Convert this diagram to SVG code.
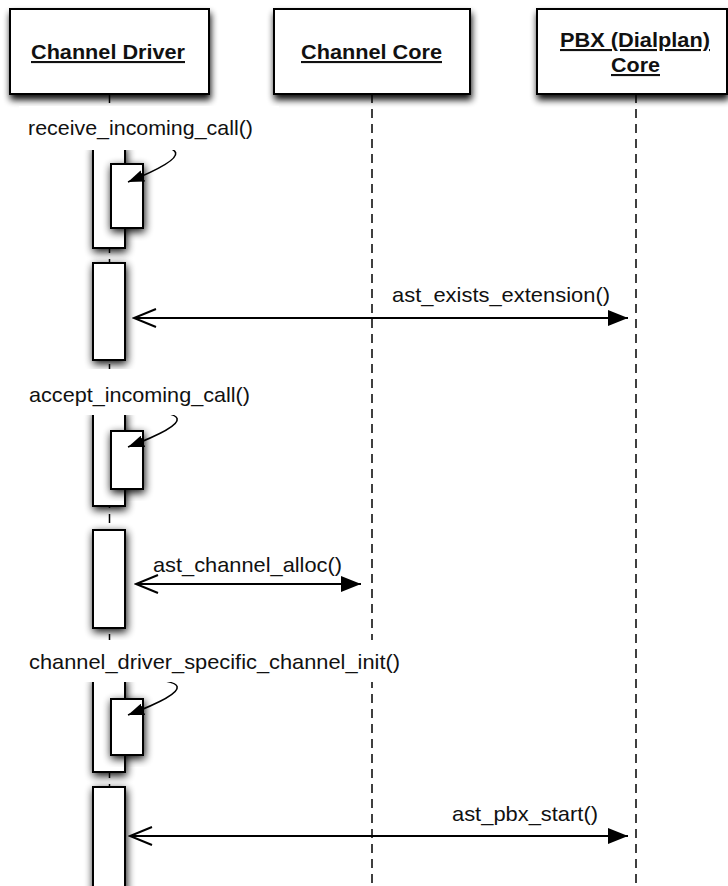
<svg xmlns="http://www.w3.org/2000/svg" width="728" height="886" viewBox="0 0 728 886">
  <style>
    .box { fill: #fff; stroke: #000; stroke-width: 2; }
    .bar { fill: #fff; stroke: #000; stroke-width: 2; }
    .life { fill: none; stroke: #000; stroke-width: 1.5; stroke-dasharray: 9 6; }
    .msg { fill: none; stroke: #000; stroke-width: 2; }
    .self { fill: none; stroke: #000; stroke-width: 1.6; }
    .hdr { font-family: "Liberation Sans", Arial, Helvetica, sans-serif; font-weight: bold; font-size: 21px; text-decoration: underline; fill: #111; }
    .lbl { font-family: "Liberation Sans", Arial, Helvetica, sans-serif; font-size: 21px; fill: #111; }
    .bg { fill: #fff; }
  </style>
  <defs>
    <filter id="boxShadow" x="-20%" y="-20%" width="140%" height="160%">
      <feGaussianBlur in="SourceAlpha" stdDeviation="3.5"/>
      <feOffset dx="1" dy="5"/>
      <feComponentTransfer><feFuncA type="linear" slope="0.95"/></feComponentTransfer>
      <feMerge><feMergeNode/><feMergeNode in="SourceGraphic"/></feMerge>
    </filter>
    <filter id="barShadow" x="-70%" y="-20%" width="240%" height="140%">
      <feGaussianBlur in="SourceAlpha" stdDeviation="4"/>
      <feOffset dx="1" dy="3"/>
      <feComponentTransfer><feFuncA type="linear" slope="0.95"/></feComponentTransfer>
      <feMerge><feMergeNode/><feMergeNode in="SourceGraphic"/></feMerge>
    </filter>
    <marker id="head" viewBox="0 0 20 16" refX="20" refY="8" markerWidth="20" markerHeight="16" markerUnits="userSpaceOnUse" orient="auto">
      <path d="M0,0 L20,8 L0,16 z" fill="#000"/>
    </marker>
    <marker id="open" viewBox="-2 -2 26 22" refX="0" refY="9" markerWidth="26" markerHeight="22" markerUnits="userSpaceOnUse" orient="auto">
      <path d="M22,0 L0,9 L22,18" fill="none" stroke="#000" stroke-width="2"/>
    </marker>
    <marker id="headSmall" viewBox="0 0 16 12" refX="16" refY="6" markerWidth="16" markerHeight="12" markerUnits="userSpaceOnUse" orient="auto">
      <path d="M0,0 L16,6 L0,12 z" fill="#000"/>
    </marker>
  </defs>

  <!-- lifelines -->
  <g id="lifelines">
    <line class="life" x1="109.5" y1="94" x2="109.5" y2="886"/>
    <line class="life" x1="372" y1="94" x2="372" y2="886"/>
    <line class="life" x1="636" y1="94" x2="636" y2="886"/>
  </g>

  <!-- participant headers -->
  <g id="channel-driver">
    <rect class="box" x="10" y="9" width="199" height="85" filter="url(#boxShadow)"/>
    <text class="hdr" x="31" y="59" textLength="154" lengthAdjust="spacingAndGlyphs">Channel Driver</text>
  </g>
  <g id="channel-core">
    <rect class="box" x="274" y="9" width="196" height="85" filter="url(#boxShadow)"/>
    <text class="hdr" x="301" y="59" textLength="141" lengthAdjust="spacingAndGlyphs">Channel Core</text>
  </g>
  <g id="pbx-core">
    <rect class="box" x="537" y="9" width="190" height="85" filter="url(#boxShadow)"/>
    <text class="hdr" x="560" y="47" textLength="150" lengthAdjust="spacingAndGlyphs">PBX (Dialplan)</text>
    <text class="hdr" x="611" y="72" textLength="49" lengthAdjust="spacingAndGlyphs">Core</text>
  </g>

  <!-- activation bars on the channel driver -->
  <g id="activation-receive">
    <rect class="bar" x="93" y="146" width="32" height="102" filter="url(#barShadow)"/>
    <rect class="bar" x="111" y="164" width="32" height="64" filter="url(#barShadow)"/>
  </g>
  <g id="activation-exists">
    <rect class="bar" x="93" y="263" width="32" height="97" filter="url(#barShadow)"/>
  </g>
  <g id="activation-accept">
    <rect class="bar" x="93" y="411" width="32" height="95" filter="url(#barShadow)"/>
    <rect class="bar" x="111" y="431" width="32" height="58" filter="url(#barShadow)"/>
  </g>
  <g id="activation-alloc">
    <rect class="bar" x="93" y="530" width="32" height="98" filter="url(#barShadow)"/>
  </g>
  <g id="activation-init">
    <rect class="bar" x="93" y="678" width="32" height="94" filter="url(#barShadow)"/>
    <rect class="bar" x="111" y="699" width="32" height="56" filter="url(#barShadow)"/>
  </g>
  <g id="activation-pbx-start">
    <rect class="bar" x="93" y="787" width="32" height="110" filter="url(#barShadow)"/>
  </g>

  <!-- messages -->
  <g id="connectors">
    <path class="self" d="M125,146 C187,144 197,154 128,182" marker-end="url(#headSmall)"/>
    <path class="self" d="M125,412 C189,410 199,420 128,447" marker-end="url(#headSmall)"/>
    <path class="self" d="M125,680 C189,678 199,688 128,715" marker-end="url(#headSmall)"/>

    <line class="msg" x1="134" y1="318" x2="628" y2="318" marker-start="url(#open)" marker-end="url(#head)"/>
    <text class="lbl" x="392" y="302" textLength="218" lengthAdjust="spacingAndGlyphs">ast_exists_extension()</text>

    <line class="msg" x1="136" y1="584" x2="361" y2="584" marker-start="url(#open)" marker-end="url(#head)"/>
    <text class="lbl" x="153" y="572" textLength="189" lengthAdjust="spacingAndGlyphs">ast_channel_alloc()</text>

    <line class="msg" x1="130" y1="836" x2="628" y2="836" marker-start="url(#open)" marker-end="url(#head)"/>
    <text class="lbl" x="452" y="821" textLength="146" lengthAdjust="spacingAndGlyphs">ast_pbx_start()</text>
  </g>

  <!-- self-call labels on white panels -->
  <g id="label-receive">
    <rect class="bg" x="19" y="106" width="260" height="44"/>
    <text class="lbl" x="28" y="135" textLength="225" lengthAdjust="spacingAndGlyphs">receive_incoming_call()</text>
  </g>
  <g id="label-accept">
    <rect class="bg" x="19" y="369" width="260" height="46"/>
    <text class="lbl" x="29" y="402" textLength="221" lengthAdjust="spacingAndGlyphs">accept_incoming_call()</text>
  </g>
  <g id="label-init">
    <rect class="bg" x="19" y="640" width="395" height="42"/>
    <text class="lbl" x="29" y="669" textLength="371" lengthAdjust="spacingAndGlyphs">channel_driver_specific_channel_init()</text>
  </g>
</svg>
